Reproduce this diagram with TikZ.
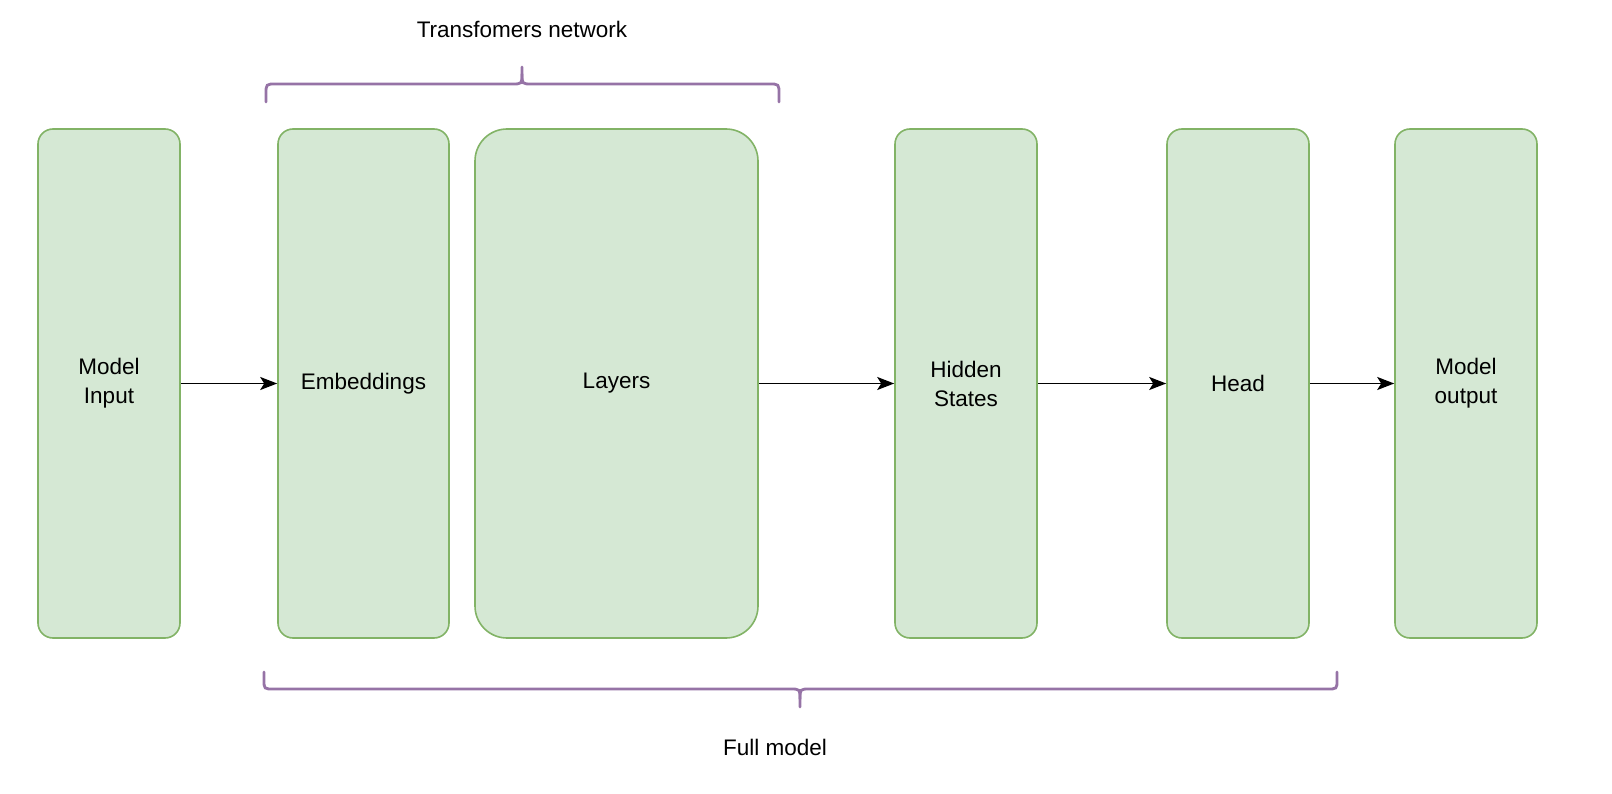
\documentclass[tikz,border=0pt]{standalone}
\usepackage{fontspec}
\setmainfont{Liberation Sans}
\usetikzlibrary{arrows.meta}
\definecolor{boxfill}{HTML}{D5E8D4}
\definecolor{boxdraw}{HTML}{82B366}
\definecolor{bracecol}{HTML}{9673A6}
\begin{document}
\begin{tikzpicture}[x=1pt,y=-1pt,
  blk/.style={draw=boxdraw,fill=boxfill,line width=1.6pt,rounded corners=15pt,
    minimum height=509pt,align=center,inner sep=0pt,
    font=\fontsize{22.5}{29}\selectfont},
  flow/.style={-{Stealth[length=17pt,width=13pt,inset=4pt]},line width=1.8pt,black},
  bracepath/.style={draw=bracecol,line width=2.8pt,line cap=round},
  lbl/.style={font=\fontsize{22.5}{29}\selectfont,inner sep=0pt}]
\useasboundingbox (0,0) rectangle (1612,794);
\node[blk,minimum width=142pt] (inp) at (109,383.5) {Model\\Input};
\node[blk,minimum width=171pt] (emb) at (363.5,383.5) {Embeddings};
\node[blk,minimum width=283pt,rounded corners=32pt] (lay) at (616.5,383.5) {Layers};
\node[blk,minimum width=142pt] (hid) at (966,383.5) {Hidden\\States};
\node[blk,minimum width=142pt] (head) at (1238,383.5) {Head};
\node[blk,minimum width=142pt] (out) at (1466,383.5) {Model\\output};
\draw[flow] (inp) -- (emb);
\draw[flow] (lay) -- (hid);
\draw[flow] (hid) -- (head);
\draw[flow] (head) -- (out);
% top brace
\coordinate (tl) at (266,102);
\coordinate (tr) at (779,102);
\coordinate (tt) at (522,67);
\draw[bracepath] (tl) -- (266,94) .. controls (266,84) .. (276,84) -- (512,84)
  .. controls (522,84) .. (522,74) -- (tt);
\draw[bracepath] (tr) -- (779,94) .. controls (779,84) .. (769,84) -- (532,84)
  .. controls (522,84) .. (522,74);
\node[lbl] (tn) at (522,29) {Transfomers network};
% bottom brace
\coordinate (bl) at (264,672);
\coordinate (br) at (1337,672);
\coordinate (bt) at (800,707);
\draw[bracepath] (bl) -- (264,680) .. controls (264,689) .. (274,689) -- (790,689)
  .. controls (800,689) .. (800,699) -- (bt);
\draw[bracepath] (br) -- (1337,680) .. controls (1337,689) .. (1327,689) -- (810,689)
  .. controls (800,689) .. (800,699);
\node[lbl] (fm) at (775,747) {Full model};
\end{tikzpicture}
\end{document}
